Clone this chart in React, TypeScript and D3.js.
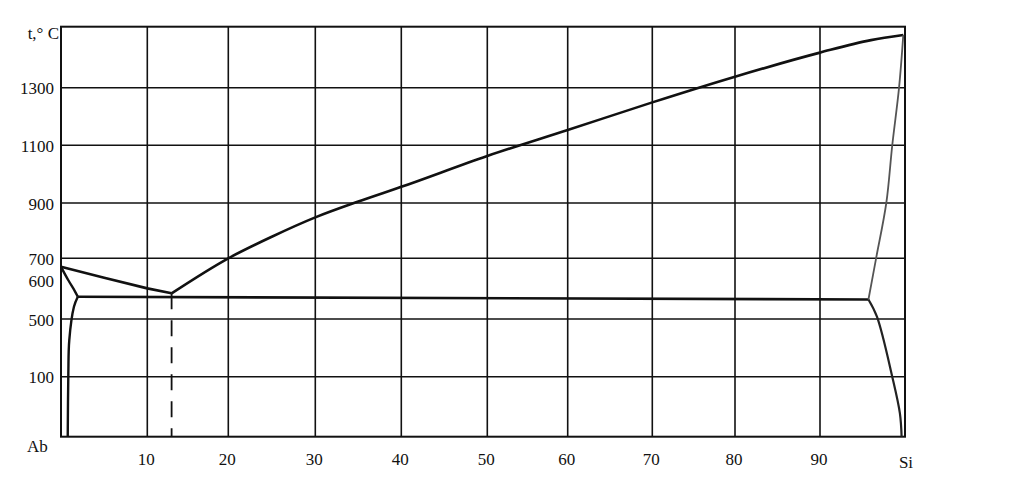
import React from "react";
import * as d3 from "d3";

// Composition (% Si) tick labels and temperature tick labels
const xTicks = [10, 20, 30, 40, 50, 60, 70, 80, 90];
const yTickLabels = [100, 500, 600, 700, 900, 1100, 1300];
const yGridValues = [100, 500, 700, 900, 1100, 1300];

// Curves: [composition %, temperature]
const liquidusAl: [number, number][] = [[0, 662], [5, 613], [10, 580], [13, 567]];
const liquidusSi: [number, number][] = [
  [13, 567], [20, 700], [25, 778], [30, 848], [35, 905], [40, 956], [50, 1063],
  [60, 1153], [70, 1249], [80, 1336], [90, 1415], [96, 1456], [99.8, 1473],
];
const solidusAl: [number, number][] = [[0, 662], [0.85, 602], [1.6, 573], [1.95, 558]];
const solvusAl: [number, number][] = [[1.95, 558], [1.5, 532], [0.96, 354], [0.85, 124], [0.78, 0]];
const eutecticLine: [number, number][] = [[1.95, 558], [95.7, 551]];
const liquidusSiSteep: [number, number][] = [[95.7, 551], [96.6, 700], [97.8, 900], [98.5, 1100], [99.3, 1300], [99.8, 1473]];
const solvusSi: [number, number][] = [[95.7, 551], [96.7, 506], [98.5, 100], [99.4, 39], [99.6, 0]];
const eutecticVertical: [number, number][] = [[13, 567], [13, 0]];

const W = 1010;
const H = 495;

export default function App() {
  const x = d3
    .scaleLinear()
    .domain([0, 10, 20, 30, 40, 50, 60, 70, 80, 90, 100])
    .range([61, 147.3, 228.3, 315.3, 401.3, 487.3, 567.7, 652.3, 735, 820, 905]);
  const y = d3
    .scaleLinear()
    .domain([0, 100, 500, 600, 700, 900, 1100, 1300, 1500])
    .range([436.7, 376.7, 319, 280.7, 258.3, 203, 145.3, 87.7, 26.7]);

  const line = d3
    .line<[number, number]>()
    .x((d) => x(d[0]))
    .y((d) => y(d[1]));
  const smooth = d3
    .line<[number, number]>()
    .x((d) => x(d[0]))
    .y((d) => y(d[1]))
    .curve(d3.curveMonotoneX);
  const smoothY = d3
    .line<[number, number]>()
    .x((d) => x(d[0]))
    .y((d) => y(d[1]))
    .curve(d3.curveCatmullRom);

  const font = "'Liberation Serif', 'Times New Roman', serif";
  const ink = "#111";
  const fs = 17;

  return (
    <svg
      width={W}
      height={H}
      style={{ position: "absolute", left: 0, top: 0, background: "#fff" }}
    >
      {/* grid */}
      {yGridValues.map((v) => (
        <line key={"h" + v} x1={x(0)} x2={x(100)} y1={y(v)} y2={y(v)} stroke={ink} strokeWidth={1.6} />
      ))}
      {xTicks.map((v) => (
        <line key={"v" + v} x1={x(v)} x2={x(v)} y1={y(1500)} y2={y(0)} stroke={ink} strokeWidth={1.6} />
      ))}
      <rect
        x={x(0)}
        y={y(1500)}
        width={x(100) - x(0)}
        height={y(0) - y(1500)}
        fill="none"
        stroke={ink}
        strokeWidth={2}
      />

      {/* phase curves */}
      <path d={line(liquidusAl) || ""} fill="none" stroke={ink} strokeWidth={2.6} />
      <path d={smooth(liquidusSi) || ""} fill="none" stroke={ink} strokeWidth={2.6} />
      <path d={smoothY(solidusAl) || ""} fill="none" stroke={ink} strokeWidth={2.4} />
      <path d={smoothY(solvusAl) || ""} fill="none" stroke={ink} strokeWidth={2.4} />
      <path d={line(eutecticLine) || ""} fill="none" stroke={ink} strokeWidth={2.6} />
      <path d={smoothY(liquidusSiSteep) || ""} fill="none" stroke="#555" strokeWidth={1.8} />
      <path d={smoothY(solvusSi) || ""} fill="none" stroke="#222" strokeWidth={2.2} />
      <path
        d={line(eutecticVertical) || ""}
        fill="none"
        stroke={ink}
        strokeWidth={1.8}
        strokeDasharray="16 11"
      />

      {/* y labels */}
      {yTickLabels.map((v) => (
        <text
          key={"yl" + v}
          x={54}
          y={y(v) + 1}
          textAnchor="end"
          dominantBaseline="central"
          fontFamily={font}
          fontSize={fs}
          fill={ink}
        >
          {v}
        </text>
      ))}
      <text x={59} y={39} textAnchor="end" fontFamily={font} fontSize={fs} fill={ink}>
        t,° C
      </text>
      <text x={27} y={452} fontFamily={font} fontSize={fs} fill={ink}>
        Ab
      </text>

      {/* x labels */}
      {xTicks.map((v) => (
        <text
          key={"xl" + v}
          x={x(v) - 1}
          y={465}
          textAnchor="middle"
          fontFamily={font}
          fontSize={fs}
          fill={ink}
        >
          {v}
        </text>
      ))}
      <text x={x(100) + 1} y={468} textAnchor="middle" fontFamily={font} fontSize={fs} fill={ink}>
        Si
      </text>
    </svg>
  );
}
